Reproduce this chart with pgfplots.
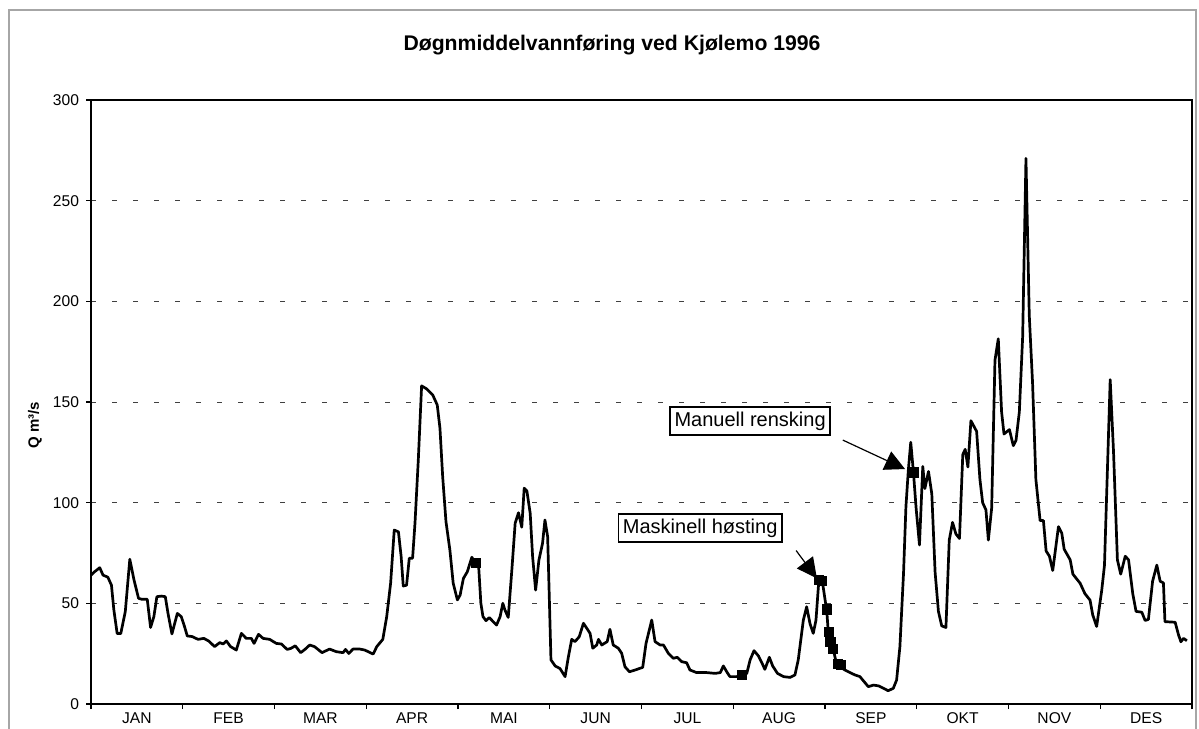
\documentclass[border=0pt]{standalone}
\usepackage{fontspec}
\setmainfont{Liberation Sans}
\usepackage{pgfplots}
\usepackage{pgfplotstable}
\pgfplotsset{compat=1.18}
\usetikzlibrary{arrows.meta}

\pgfplotstableread{
day q
0 64
1.2 65.7
2.9 67.7
4 64
5.6 63
6.8 59
7.6 46.7
8.7 35
9.9 35
11.4 45.9
12.9 71.9
14.3 61.6
15.8 52.5
16.9 52
18.7 52
19.8 38
20.9 43.4
21.9 53.3
23.4 53.6
24.7 53.3
25.6 45
26.9 34.8
28.7 45
30 43.4
31.1 38.4
32 33.8
33.6 33.5
35.6 32.1
37.5 32.6
39.1 31.3
41.1 28.5
42.8 30.5
43.9 29.8
45 31.3
46.4 28.5
48.3 26.8
50 35.1
51.6 32.6
53.3 32.6
54.2 30.1
55.7 34.6
57.2 32.6
59.4 32.1
61.6 30.1
63.3 29.8
65.2 27.1
66.4 27.6
67.9 28.9
69.7 25.5
71.1 27.1
72.7 29.3
74.3 28.5
76.8 25.5
79.3 27.3
81.5 26
83.8 25.5
84.6 27.1
85.7 25.1
87.1 27.3
89.3 27.3
91 26.8
93.8 24.8
95 28.5
97 32.1
98.3 43.4
99.6 60
100.8 86.4
102.2 85.5
103.1 73.2
103.8 58.6
104.9 59
105.8 72.4
106.9 72.4
107.7 89.8
108.8 121.2
109.9 158
111.6 156.5
113.6 153.5
115.1 148.5
116 137
116.9 113
118 90.6
119.3 76.5
120.4 60
121.8 51.7
122.7 54.1
123.8 62.4
125.1 65.7
126.6 72.9
127.7 70
128.8 70
129.6 50
130.3 43.4
131.3 41.4
132.4 42.9
133.7 40.9
134.8 39.2
136 43.4
136.9 50
137.6 46.7
138.7 43
139.9 66.6
141 89.8
142.1 95
143.2 87.8
144 107.2
144.9 105.8
146 94.7
146.8 73.2
147.8 56.6
148.9 71.5
150.1 79.8
150.9 91.4
151.8 83.1
152.4 50
152.9 21.9
154.3 18.9
155.9 17.6
157.6 13.6
158.7 23.5
159.8 32.1
160.9 31
162.3 33.4
163.7 40.1
165.9 35.1
166.8 27.7
168.1 29.3
168.7 32.1
169.8 29.3
171.6 31
172.5 37.1
173.6 29.3
175.3 27.7
176.4 25.2
177.5 18.5
179 16
180.9 16.9
183.4 18.2
184.5 30.1
186.4 41.7
187.5 31
189.2 29.3
190.3 29.3
191.9 25.2
193.6 22.7
194.9 23.2
196.4 21
198 20.5
199.1 16.9
201.3 15.6
204.7 15.6
207.5 15.2
209.2 15.6
210.2 18.9
211.5 15.6
212.4 13.6
214.6 13.6
216.3 14
218 15.2
219.1 21.9
220.4 26.5
221.9 23.8
223 20.5
224 17.2
225.5 23.2
226.6 18.9
228.2 15.2
230.2 13.6
232.4 13.2
234 14.4
235.1 21.9
236.8 41.7
237.9 48.3
239 40
240.1 35.1
241 41.7
241.8 58.3
242.3 61.6
243.2 60
243.7 55
244.6 45.9
245.1 35.4
245.8 31
246.8 26.8
247.9 19.4
249 18.5
250.6 16.9
252.3 15.6
254 14.4
255.6 13.6
257 11.1
258.4 8.6
260.1 9.4
261.8 9
263.4 7.8
265 6.6
266.7 7.8
267.8 11.9
268.9 28.5
270.1 64.9
270.9 98
271.7 116.2
272.5 130
273.4 115
274.3 97
275.4 79
276.5 118
277.2 107
278.4 115.5
279.5 104.4
280.6 65.4
281.7 46
282.8 38.8
284.2 38
285.3 81.4
286.4 90.2
287.5 84.5
288.7 82.2
289.8 123.9
290.6 126.5
291.5 117.7
292.5 140.7
294.4 135.4
295.5 111.5
296.4 100
297.5 96.4
298.3 81.4
299.4 97.3
300.5 170.8
301.6 181.4
302.7 145.1
303.5 134.1
305.3 136.3
306.6 128.3
307.5 131
308.6 145.1
309.7 182.3
310.8 271
311.9 193
313 159.3
314.1 111.5
315.5 91.1
316.6 91.1
317.5 76
318.6 73.4
319.7 66.3
321.6 88.1
322.7 84.9
323.5 76.9
325.5 71.6
326.4 64.5
328.8 60
330.4 54.8
332.1 51.6
333 44.2
334.3 38.5
336 56.6
336.9 68.9
338.8 161.1
339.9 125.6
341.2 71.6
342.3 64.5
343.8 73.4
344.9 71.6
346.3 54.8
347.4 46
349.3 45.6
350.4 41.5
351.5 42
352.9 61
354.3 69
355.4 61
356.5 60.1
357 40.9
360.4 40.6
361.5 34.4
362.3 30.9
363.2 32.6
364.3 31.4
}\flowdata

\pgfplotstableread{
day q
128 70
216.3 14.3
242 61.5
243 61
244.5 47
245.2 36
245.8 31
246.6 27.5
248.4 20
249.3 19.5
273.4 115
}\markdata

\begin{document}
\begin{tikzpicture}
\useasboundingbox (0,0) rectangle (599.5pt,364pt);
\draw[gray!70, line width=0.6pt] (4.5pt,-2pt) -- (4.5pt,359pt) -- (598pt,359pt) -- (598pt,-2pt);
\node[font=\bfseries\fontsize{10.6}{12}\selectfont] at (306pt,341.5pt) {Døgnmiddelvannføring ved Kjølemo 1996};
\node[rotate=90, font=\bfseries\fontsize{7.5}{8}\selectfont] at (17.5pt,151.5pt) {Q m³/s};
\begin{axis}[
  at={(45.5pt,12pt)}, anchor=south west,
  width=550.5pt, height=302pt, scale only axis,
  xmin=0, xmax=366, ymin=0, ymax=300,
  xtick={0,30.5,61,91.5,122,152.5,183,213.5,244,274.5,305,335.5,366},
  x tick label as interval,
  xticklabels={JAN,FEB,MAR,APR,MAI,JUN,JUL,AUG,SEP,OKT,NOV,DES},
  ytick={0,50,100,150,200,250,300},
  /pgf/number format/assume math mode=true,
  tick align=outside, tick pos=left,
  major tick length=2.5pt,
  ymajorgrids,
  grid style={dash pattern=on 2.5pt off 8pt, black!75, line width=0.5pt},
  axis line style={line width=0.6pt},
  tick style={black, line width=0.6pt},
  ticklabel style={font=\fontsize{7.8}{9}\selectfont},
  xticklabel style={yshift=1.5pt},
  clip=false,
]
\addplot[black, line width=1.35pt, line join=round] table[x=day, y=q] {\flowdata};
\addplot[only marks, mark=square*, mark size=2.3pt, black] table[x=day, y=q] {\markdata};
\draw[line width=0.6pt, -{Triangle[length=10pt,width=10pt]}] (axis cs:249.9,131.1) -- (axis cs:270.6,116.7);
\draw[line width=0.6pt, -{Triangle[length=10pt,width=10pt]}] (axis cs:234.4,76.2) -- (axis cs:241.3,62.4);
\node[draw, line width=0.8pt, fill=white, inner xsep=2.2pt, inner ysep=2.3pt, font=\fontsize{10}{12}\selectfont] at (axis cs:219.1,140.6) {Manuell rensking};
\node[draw, line width=0.8pt, fill=white, inner xsep=2.2pt, inner ysep=2.3pt, font=\fontsize{10}{12}\selectfont] at (axis cs:202.5,87.4) {Maskinell høsting};
\end{axis}
\end{tikzpicture}
\end{document}
